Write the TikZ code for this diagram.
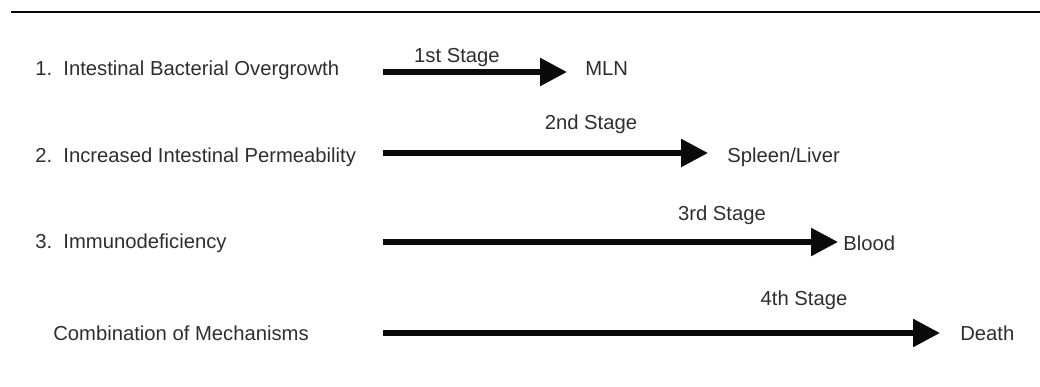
\documentclass[tikz,border=0pt]{standalone}
\usepackage{fontspec}
\usepackage{xcolor}
\usetikzlibrary{
    arrows.meta,
    positioning,
    calc
}
\newfontfamily\diagfont{Liberation Sans}
\definecolor{ink}{HTML}{2E2E2E}
\definecolor{shaft}{HTML}{0A0A0A}
\tikzset{
    % Mechanism label style
    mechanism/.style={
        anchor=west,
        inner sep=0pt,
        font=\diagfont\fontsize{14.4}{17}\selectfont,
        text=ink
    },
    % Target organ style
    target/.style={
        mechanism
    },
    % Stage label style
    stage label/.style={
        inner sep=0pt,
        font=\diagfont\fontsize{14.4}{17}\selectfont,
        text=ink
    },
    % Arrow styles
    stage arrow/.style={
        -{Triangle[length=6.75mm, width=6.75mm]},
        line width=4pt,
        color=shaft
    },
    top rule/.style={
        line width=2pt,
        color=shaft
    }
}

\begin{document}
\begin{tikzpicture}

        \useasboundingbox (0,0) rectangle (26,-9.675);

        % Top rule
        \draw[top rule] (0.275,-0.3) -- (26,-0.3);

        % Mechanisms
        \node[mechanism] (overgrowth) at (0.875, -1.75) {1.\ \ Intestinal Bacterial Overgrowth};
        \node[mechanism] (permeability) at (0.875, -3.925) {2.\ \ Increased Intestinal Permeability};
        \node[mechanism] (immuno) at (0.875, -6.075) {3.\ \ Immunodeficiency};
        \node[mechanism] (combination) at (1.325, -8.325) {Combination of Mechanisms};

        % Targets
        \node[target] (mln) at (14.625, -1.725) {MLN};
        \node[target] (spleen) at (18.175, -3.925) {Spleen/Liver};
        \node[target] (blood) at (21.075, -6.075) {Blood};
        \node[target] (death) at (24, -8.325) {Death};

        % Stage labels
        \node[stage label] (stage1) at (11.425, -1.45) {1st Stage};
        \node[stage label] (stage2) at (14.775, -3.1) {2nd Stage};
        \node[stage label] (stage3) at (18.05, -5.375) {3rd Stage};
        \node[stage label] (stage4) at (20.1, -7.5) {4th Stage};

        % Arrow starts
        \coordinate (s1) at (9.575, -1.8);
        \coordinate (s2) at (9.575, -3.825);
        \coordinate (s3) at (9.575, -6.05);
        \coordinate (s4) at (9.575, -8.325);

        % Connections
        \draw[stage arrow, shorten >=4.5mm] (s1) -- (s1 -| mln.west);
        \draw[stage arrow, shorten >=4.75mm] (s2) -- (s2 -| spleen.west);
        \draw[stage arrow, shorten >=1.25mm] (s3) -- (s3 -| blood.west);
        \draw[stage arrow, shorten >=5mm] (s4) -- (s4 -| death.west);

\end{tikzpicture}
\end{document}
